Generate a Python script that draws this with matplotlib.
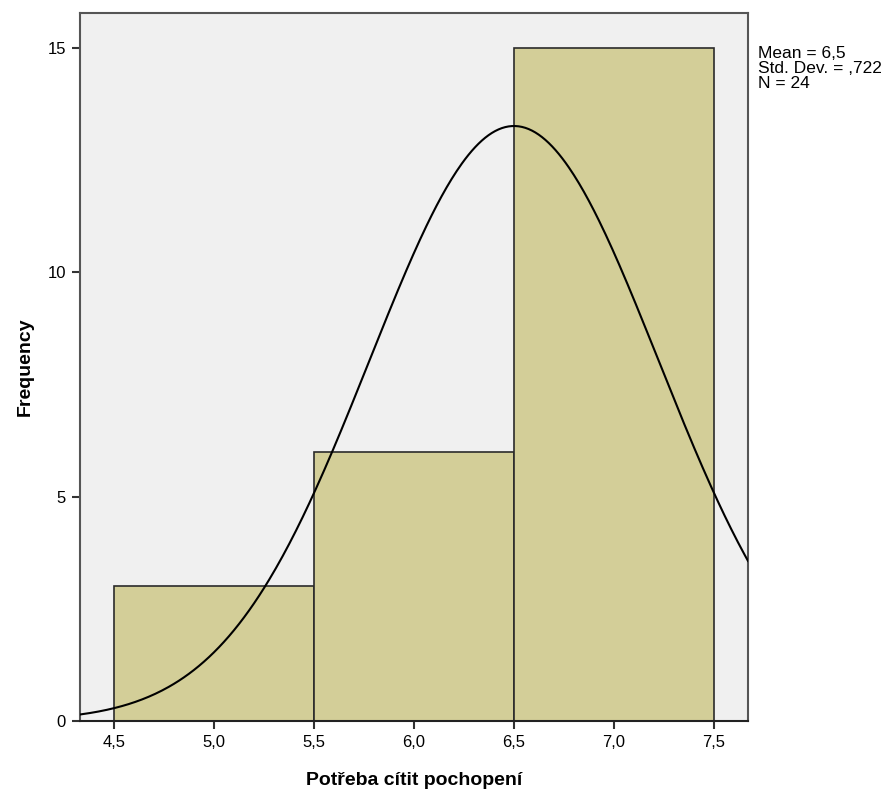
import matplotlib
matplotlib.use("Agg")
import matplotlib.pyplot as plt
import numpy as np

plt.rcParams['font.family'] = ['Liberation Sans', 'DejaVu Sans']

# histogram data
bin_edges = [4.5, 5.5, 6.5, 7.5]
counts = [3, 6, 15]
mean = 6.5
std = 0.722
n = 24

x_ticks = [4.5, 5.0, 5.5, 6.0, 6.5, 7.0, 7.5]
y_ticks = [0, 5, 10, 15]

fig = plt.figure(figsize=(8.85, 7.93), dpi=100)
ax = fig.add_axes([0.0904, 0.0908, 0.7548, 0.8928])
ax.set_facecolor("#f0f0f0")

widths = np.diff(bin_edges)
ax.bar(bin_edges[:-1], counts, width=widths, align="edge",
       color="#d3ce98", edgecolor="#2b2b2b", linewidth=1.2, zorder=2)

xs = np.linspace(4.33, 7.67, 400)
bw = widths[0]
ys = n * bw / (std * np.sqrt(2 * np.pi)) * np.exp(-0.5 * ((xs - mean) / std) ** 2)
ax.plot(xs, ys, color="black", linewidth=1.5, zorder=3)

ax.set_xlim(4.33, 7.67)
ax.set_ylim(0, 15.78)
ax.set_xticks(x_ticks)
ax.set_xticklabels([f"{t:.1f}".replace(".", ",") for t in x_ticks], fontsize=12)
ax.set_yticks(y_ticks)
ax.set_yticklabels([str(t) for t in y_ticks], fontsize=12)
ax.tick_params(direction="out", length=6, width=1.5, color="#333333", pad=4)

for s in ax.spines.values():
    s.set_color("#555555")
    s.set_linewidth(1.5)
ax.spines["bottom"].set_color("#222222")

ax.set_xlabel("Potřeba cítit pochopení", fontsize=14, fontweight="bold", labelpad=16)
ax.set_ylabel("Frequency", fontsize=14, fontweight="bold", labelpad=10)

fig.text(0.856, 0.942, "Mean = 6,5\nStd. Dev. = ,722\nN = 24",
         fontsize=12.5, va="top", ha="left", linespacing=1.02)

fig.savefig("out.png", dpi=100)
